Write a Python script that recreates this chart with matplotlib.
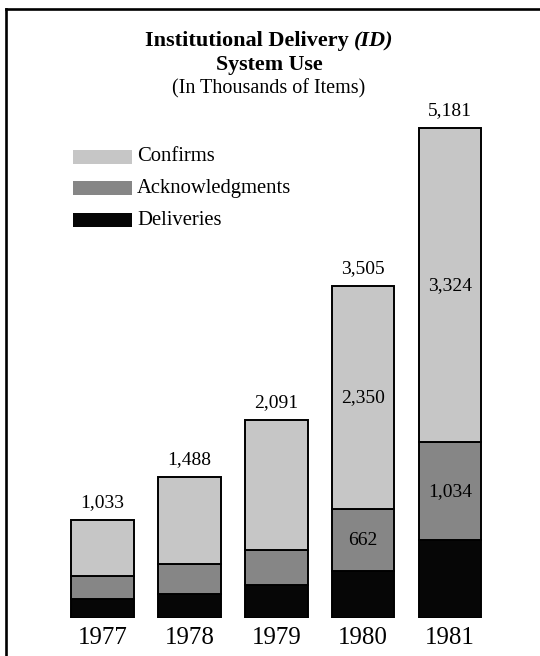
import matplotlib
matplotlib.use("Agg")
import matplotlib.pyplot as plt
from matplotlib.patches import Rectangle
from matplotlib.lines import Line2D

anios = ["1977", "1978", "1979", "1980", "1981"]
entregas = [200, 258, 345, 493, 823]
acuses = [240, 308, 375, 662, 1034]
confirmaciones = [593, 922, 1371, 2350, 3324]
# valores que se escriben dentro de las barras
etiquetas_acuses = {3: "662", 4: "1,034"}
etiquetas_conf = {3: "2,350", 4: "3,324"}

nombres = ["Confirms", "Acknowledgments", "Deliveries"]
colores = ["#c6c6c6", "#868686", "#060606"]

W, H = 540, 656
plt.rcParams["font.family"] = ["Liberation Serif", "DejaVu Serif"]

fig = plt.figure(figsize=(W / 100, H / 100), dpi=100)

def fx(px):
    return px / W

def fy(py):
    return 1 - py / H

# marco de la pagina
fig.add_artist(Line2D([fx(6), fx(540)], [fy(9), fy(9)], color="black", lw=1.9))
fig.add_artist(Line2D([fx(6), fx(6)], [fy(9), fy(656)], color="black", lw=1.9))

base = 618
escala = 0.0946
techo = 100
ax = fig.add_axes([fx(59), fy(base), fx(493.5) - fx(59), fy(techo) - fy(base)])
ax.set_xlim(-0.5, 4.5)
ax.set_ylim(0, (base - techo) / escala)
ax.axis("off")

pos = range(len(anios))
ancho = 0.72
totales = []
for i in pos:
    abajo = 0
    for valor, color in zip([entregas[i], acuses[i], confirmaciones[i]],
                            [colores[2], colores[1], colores[0]]):
        ax.bar(i, valor, width=ancho, bottom=abajo, color=color,
               edgecolor="black", linewidth=1.4)
        abajo += valor
    totales.append(abajo)

for i in pos:
    ax.annotate(f"{totales[i]:,}", (i, totales[i]), xytext=(0, 12.8),
                textcoords="offset points", ha="center", va="center",
                fontsize=14)
    ax.annotate(anios[i], (i, 0), xytext=(0, -14.5),
                textcoords="offset points", ha="center", va="center",
                fontsize=18)
    if i in etiquetas_acuses:
        y = entregas[i] + acuses[i] / 2
        ax.text(i, y, etiquetas_acuses[i], ha="center", va="center", fontsize=14)
    if i in etiquetas_conf:
        y = entregas[i] + acuses[i] + confirmaciones[i] / 2
        ax.text(i, y, etiquetas_conf[i], ha="center", va="center", fontsize=14)

# titulo, con (ID) en cursiva
cx = fx(269)
renderer = fig.canvas.get_renderer()
t1 = fig.text(0, fy(41), "Institutional Delivery ", fontsize=16,
              fontweight="bold", va="center")
t2 = fig.text(0, fy(41), "(ID)", fontsize=16, fontweight="bold",
              fontstyle="italic", va="center")
w1 = t1.get_window_extent(renderer).width / W
w2 = t2.get_window_extent(renderer).width / W
t1.set_x(cx - (w1 + w2) / 2)
t2.set_x(cx - (w1 + w2) / 2 + w1)
fig.text(cx, fy(65), "System Use", fontsize=15.8, fontweight="bold",
         ha="center", va="center")
fig.text(cx, fy(89), "(In Thousands of Items)", fontsize=14.5,
         ha="center", va="center")

# leyenda hecha a mano
for nombre, color, py in zip(nombres, colores, [157, 188, 220]):
    fig.add_artist(Rectangle((fx(73), fy(py + 7)), fx(59), 14 / H,
                             facecolor=color, edgecolor="none"))
    fig.text(fx(137), fy(py), nombre, fontsize=14.9, va="center")

fig.savefig("out.png", dpi=100)
